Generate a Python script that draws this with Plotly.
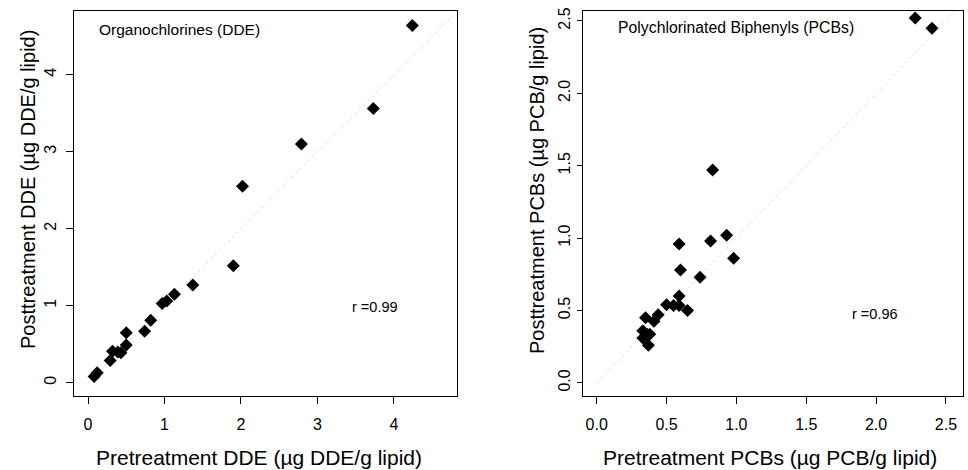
import plotly.graph_objects as go

# DDE panel data (pre, post)
dde_pre = [0.08, 0.12, 0.29, 0.32, 0.39, 0.43, 0.50, 0.50, 0.74, 0.82, 0.97, 1.03, 1.13, 1.37, 1.90, 2.02, 2.79, 3.73, 4.24]
dde_post = [0.08, 0.13, 0.29, 0.41, 0.40, 0.39, 0.65, 0.49, 0.67, 0.81, 1.03, 1.06, 1.15, 1.27, 1.52, 2.55, 3.10, 3.56, 4.64]

# PCB panel data (pre, post)
pcb_pre = [2.28, 2.40, 0.83, 0.59, 0.815, 0.93, 0.98, 0.60, 0.74, 0.59, 0.50, 0.55, 0.59, 0.65, 0.44, 0.41, 0.35, 0.33, 0.38, 0.36, 0.33, 0.37]
pcb_post = [2.52, 2.45, 1.47, 0.96, 0.98, 1.02, 0.86, 0.78, 0.73, 0.60, 0.54, 0.535, 0.535, 0.50, 0.47, 0.425, 0.45, 0.36, 0.335, 0.335, 0.31, 0.26]

dde_ticks = [0, 1, 2, 3, 4]
pcb_ticks = [0.0, 0.5, 1.0, 1.5, 2.0, 2.5]
pcb_ticklabels = ["0.0", "0.5", "1.0", "1.5", "2.0", "2.5"]

dde_range_x = [-0.183, 4.824]
dde_range_y = [-0.169, 4.83]
pcb_range_x = [-0.098, 2.622]
pcb_range_y = [-0.089, 2.57]

FONT = "Liberation Sans, Arial, sans-serif"
W, H = 968, 470

fig = go.Figure()

# 1:1 reference lines (faint dotted)
fig.add_trace(go.Scatter(x=[0, dde_range_x[1]], y=[0, dde_range_x[1]], mode="lines",
                         line=dict(color="#dcdcdc", width=1, dash="dot"),
                         xaxis="x", yaxis="y", showlegend=False, hoverinfo="skip"))
fig.add_trace(go.Scatter(x=[0, pcb_range_x[1]], y=[0, pcb_range_x[1]], mode="lines",
                         line=dict(color="#dcdcdc", width=1, dash="dot"),
                         xaxis="x2", yaxis="y2", showlegend=False, hoverinfo="skip"))

fig.add_trace(go.Scatter(x=dde_pre, y=dde_post, mode="markers",
                         marker=dict(symbol="diamond", size=10, color="black"),
                         xaxis="x", yaxis="y", showlegend=False))
fig.add_trace(go.Scatter(x=pcb_pre, y=pcb_post, mode="markers",
                         marker=dict(symbol="diamond", size=10, color="black"),
                         xaxis="x2", yaxis="y2", showlegend=False))

axis_common = dict(showline=True, mirror=True, linecolor="black", linewidth=1.3,
                   showgrid=False, zeroline=False, ticks="outside",
                   tickwidth=1, tickcolor="black", automargin=False,
                   tickfont=dict(family=FONT, size=16, color="black"))


def ann(text, px, py, size, angle=0, xanchor="center"):
    return dict(text=text, xref="paper", yref="paper", x=px / W, y=1 - py / H,
                xanchor=xanchor, yanchor="middle", showarrow=False, textangle=angle,
                font=dict(family=FONT, size=size, color="black"))


fig.update_layout(
    width=W, height=H,
    margin=dict(l=0, r=0, t=0, b=0),
    paper_bgcolor="white", plot_bgcolor="white",
    font=dict(family=FONT, color="black"),
    xaxis=dict(domain=[74/W, 457/W], range=dde_range_x, tickvals=dde_ticks,
               ticklen=7, ticklabelstandoff=7, anchor="y", **axis_common),
    yaxis=dict(domain=[0.158, 0.977], range=dde_range_y, tickvals=dde_ticks,
               ticklen=7, tickangle=-90, ticklabelstandoff=3, anchor="x", **axis_common),
    xaxis2=dict(domain=[583/W, 963/W], range=pcb_range_x, tickvals=pcb_ticks,
                ticktext=pcb_ticklabels, ticklen=7, ticklabelstandoff=7,
                anchor="y2", **axis_common),
    yaxis2=dict(domain=[0.158, 0.977], range=pcb_range_y, tickvals=pcb_ticks,
                ticktext=pcb_ticklabels, ticklen=5, tickangle=-90, ticklabelstandoff=0,
                anchor="x2", **axis_common),
    annotations=[
        ann("Pretreatment DDE (\u00b5g DDE/g lipid)", 259, 457, 21),
        ann("Posttreatment DDE (\u00b5g DDE/g lipid)", 28, 190, 20, angle=-90),
        ann("Pretreatment PCBs (\u00b5g PCB/g lipid)", 770, 457, 21),
        ann("Posttreatment PCBs (\u00b5g PCB/g lipid)", 537, 191, 20, angle=-90),
        ann("Organochlorines (DDE)", 97, 29, 15.5, xanchor="left"),
        ann("Polychlorinated Biphenyls (PCBs)", 616, 27, 15.8, xanchor="left"),
        ann("r =0.99", 375, 307, 14.5),
        ann("r =0.96", 875, 314, 14.5),
    ],
)

fig.write_html("out.html", config={"displayModeBar": False},
               post_script="document.body.style.margin='0';document.body.style.overflow='hidden';")
